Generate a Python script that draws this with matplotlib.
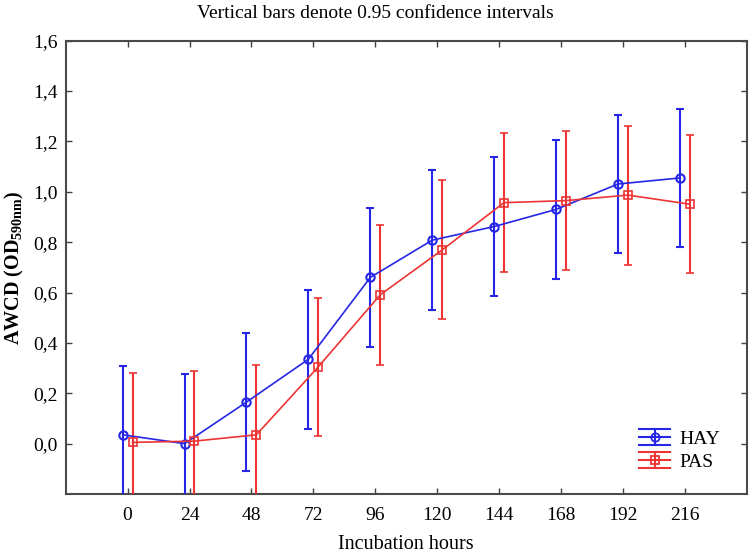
import matplotlib
matplotlib.use("Agg")
import matplotlib.pyplot as plt
import numpy as np
from matplotlib.legend_handler import HandlerBase
from matplotlib.lines import Line2D

plt.rcParams['font.family'] = ['Liberation Serif', 'DejaVu Serif']
plt.rcParams['mathtext.fontset'] = 'custom'
plt.rcParams['mathtext.rm'] = 'Liberation Serif'
plt.rcParams['mathtext.bf'] = 'Liberation Serif:bold'

hours = [0, 24, 48, 72, 96, 120, 144, 168, 192, 216]
hay = [0.035, 0.0, 0.165, 0.335, 0.66, 0.808, 0.862, 0.93, 1.031, 1.055]
hay_ci = [0.275, 0.275, 0.275, 0.275, 0.276, 0.277, 0.277, 0.275, 0.275, 0.275]
pas = [0.005, 0.01, 0.035, 0.305, 0.591, 0.769, 0.957, 0.965, 0.987, 0.951]
pas_ci = [0.277, 0.277, 0.277, 0.275, 0.277, 0.276, 0.275, 0.275, 0.276, 0.275]
yticks = [0.0, 0.2, 0.4, 0.6, 0.8, 1.0, 1.2, 1.4, 1.6]

blue = '#2626e6'
red = '#ec3434'

fig = plt.figure(figsize=(7.5, 5.54), dpi=100)
ax = fig.add_axes([0.0876, 0.1083, 0.908, 0.8182])

x = np.arange(len(hours))
off = 0.08
ax.errorbar(x - off, hay, yerr=hay_ci, color=blue, marker='o', markersize=6,
            markerfacecolor='none', markeredgewidth=1.5, lw=1.2, elinewidth=1.5,
            capsize=3, capthick=1.5, label='HAY', zorder=3)
ax.errorbar(x + off, pas, yerr=pas_ci, color=red, marker='s', markersize=6,
            markerfacecolor='none', markeredgewidth=1.2, lw=1.2, elinewidth=1.5,
            capsize=3, capthick=1.5, label='PAS', zorder=3)

ax.set_xlim(-1, 10)
ax.set_ylim(-0.2, 1.6)
ax.set_xticks(x)
ax.set_xticklabels([str(h) for h in hours], fontsize=14)
ax.set_yticks(yticks)
ax.set_yticklabels([f"{v:.1f}".replace('.', ',') for v in yticks], fontsize=14)
ax.tick_params(direction='in', length=4, width=1, color='#404040',
               top=True, right=True)
ax.tick_params(axis='x', pad=9)
ax.tick_params(axis='y', pad=6)
for s in ax.spines.values():
    s.set_color('#4a4a4a')
    s.set_linewidth(1.5)

fig.text(0.5, 1 - 13 / 554, 'Vertical bars denote 0.95 confidence intervals',
         fontsize=14, ha='center', va='center')
ax.set_xlabel('Incubation hours', fontsize=14.5, labelpad=8)
ax.set_ylabel(r'AWCD (OD$_{\mathbf{590nm}}$)', fontsize=14.5, fontweight='bold', labelpad=5)


class ErrHandler(HandlerBase):
    def __init__(self, color, marker):
        super().__init__()
        self.color = color
        self.marker = marker

    def create_artists(self, legend, orig_handle, xdescent, ydescent, width, height, fontsize, trans):
        cy = height / 2 - ydescent
        dy = height * 0.6
        arts = []
        for yy in (cy - dy, cy, cy + dy):
            arts.append(Line2D([-xdescent, width - xdescent], [yy, yy], color=self.color, lw=1.5, transform=trans))
        cx = width / 2 - xdescent
        arts.append(Line2D([cx, cx], [cy - dy, cy + dy], color=self.color, lw=1.5, transform=trans))
        arts.append(Line2D([cx], [cy], marker=self.marker, markersize=6, markerfacecolor='none',
                           markeredgecolor=self.color, markeredgewidth=1.3, transform=trans))
        return arts


h1 = Line2D([], [], color=blue)
h2 = Line2D([], [], color=red)
ax.legend([h1, h2], ['HAY', 'PAS'], loc='lower right', bbox_to_anchor=(0.986, 0.012),
          frameon=False, fontsize=14, handlelength=1.6, handletextpad=0.45,
          labelspacing=0.3,
          handler_map={h1: ErrHandler(blue, 'o'), h2: ErrHandler(red, 's')})

fig.savefig('out.png', dpi=100)
